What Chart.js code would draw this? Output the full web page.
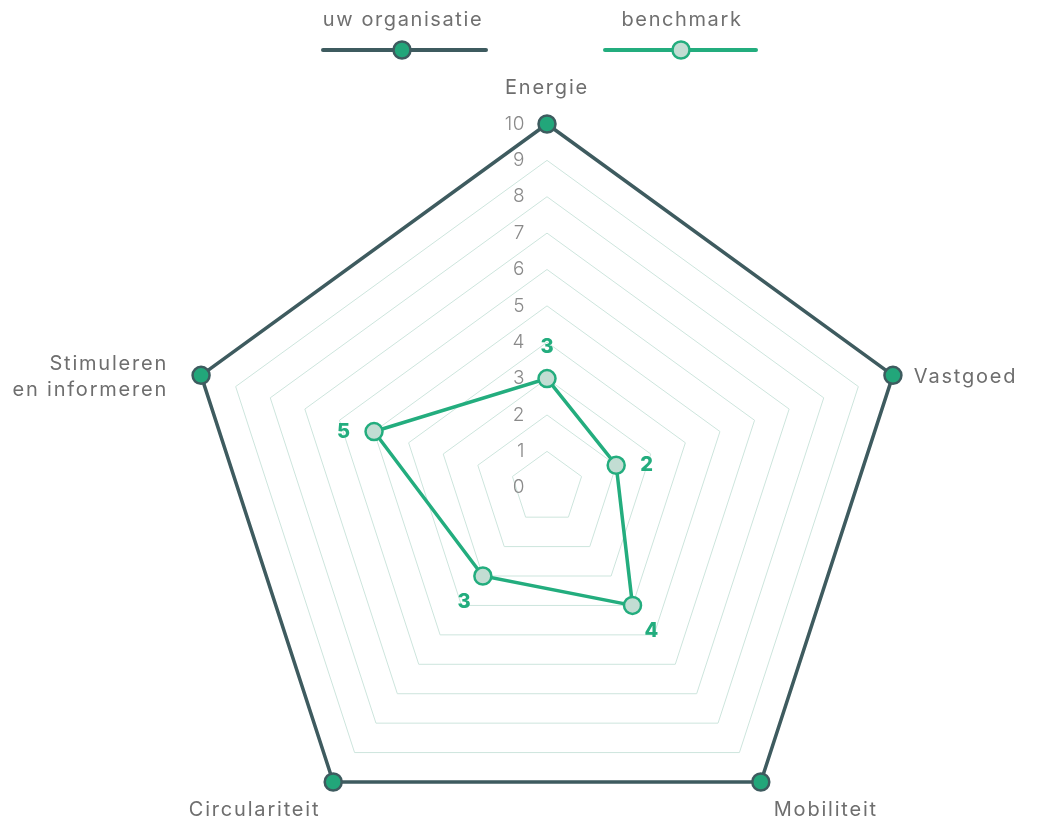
<!DOCTYPE html>
<html>
<head>
<meta charset="utf-8">
<script src="https://cdn.jsdelivr.net/npm/chart.js@4.4.1/dist/chart.umd.min.js"></script>
<style>
  html, body { margin: 0; padding: 0; background: #fff; }
  #wrap { width: 1037px; height: 824px; }
</style>
</head>
<body>
<div id="wrap"><canvas id="myRadarChart" width="1037" height="824"></canvas></div>
<script>
// chart data
var categories = [["Energie"], ["Vastgoed"], ["Mobiliteit"], ["Circulariteit"], ["Stimuleren", "en informeren"]];
var orgValues = [10, 10, 10, 10, 10];
var benchmarkValues = [3, 2, 4, 3, 5];
var tickLabels = ["0", "1", "2", "3", "4", "5", "6", "7", "8", "9", "10"];
var seriesNames = ["uw organisatie", "benchmark"];

var FONT = "Inter, 'Open Sans', sans-serif";
var DARK = "#3e5b5f";
var GREEN = "#23ad7e";

// fit the polygon (not a circle) into the chart area
function fitPolygon(scale) {
  var n = scale.chart.data.labels.length;
  var minX = 0, maxX = 0, minY = 0, maxY = 0;
  for (var i = 0; i < n; i++) {
    var a = (Math.PI * 2 * i) / n - Math.PI / 2;
    minX = Math.min(minX, Math.cos(a)); maxX = Math.max(maxX, Math.cos(a));
    minY = Math.min(minY, Math.sin(a)); maxY = Math.max(maxY, Math.sin(a));
  }
  var w = scale.maxWidth, h = scale.maxHeight;
  var r = Math.min(w / (maxX - minX), h / (maxY - minY));
  scale.drawingArea = r;
  scale.xCenter = scale.left + w / 2 - r * (maxX + minX) / 2;
  scale.yCenter = scale.top - r * minY;
}

var extrasPlugin = {
  id: "extras",
  beforeDatasetsDraw: function (chart) {
    var scale = chart.scales.r;
    var ctx = chart.ctx;
    ctx.save();
    // tick labels, left of the vertical axis
    ctx.font = "300 19px " + FONT;
    ctx.letterSpacing = "0.5px";
    ctx.fillStyle = "#8a8a8a";
    ctx.textAlign = "right";
    ctx.textBaseline = "middle";
    tickLabels.forEach(function (t) {
      var d = scale.getDistanceFromCenterForValue(Number(t));
      ctx.fillText(t, scale.xCenter - 22, scale.yCenter - d);
    });
    // point labels
    ctx.font = "20px " + FONT;
    ctx.letterSpacing = "1.8px";
    ctx.fillStyle = "#6e6e6e";
    categories.forEach(function (lines, i) {
      var p = scale.getPointPosition(i, scale.drawingArea + 22);
      var dx = p.x - scale.xCenter, dy = p.y - scale.yCenter;
      var y = p.y;
      if (Math.abs(dx) < 5) { ctx.textAlign = "center"; y -= 14; }
      else if (dx > 0) { ctx.textAlign = "left"; }
      else { ctx.textAlign = "right"; }
      var x = p.x;
      if (Math.abs(dx) > 5) {
        if (dy > 50) { y += 10; } else { y += 8; }
        if (lines.length > 1) { x -= 12; }
      }
      var lh = 26;
      var y0 = y - (lines.length - 1) * lh / 2;
      lines.forEach(function (line, k) {
        ctx.fillText(line, x, y0 + k * lh);
      });
    });
    ctx.restore();
  },
  afterDatasetsDraw: function (chart) {
    var scale = chart.scales.r;
    var ctx = chart.ctx;
    ctx.save();
    // value labels for benchmark
    ctx.font = "800 20px " + FONT;
    ctx.fillStyle = GREEN;
    ctx.textAlign = "center";
    ctx.textBaseline = "middle";
    benchmarkValues.forEach(function (v, i) {
      var d = scale.getDistanceFromCenterForValue(v);
      var pt = scale.getPointPosition(i, d);
      var p = scale.getPointPosition(i, d + 32);
      var y = p.y;
      if (Math.abs(p.y - pt.y) < 12) { y = pt.y; }
      ctx.fillText(String(v), p.x, y);
    });
    // legend
    var centers = [402, 681];
    var spans = [[79, 84], [76, 75]];
    chart.data.datasets.forEach(function (ds, i) {
      var cx = centers[i];
      ctx.font = "20px " + FONT;
      ctx.letterSpacing = "1.6px";
      ctx.fillStyle = "#707070";
      ctx.textAlign = "center";
      ctx.textBaseline = "middle";
      ctx.fillText(ds.label, cx + 1, 20);
      ctx.beginPath();
      ctx.lineCap = "round";
      ctx.lineWidth = 4;
      ctx.strokeStyle = ds.borderColor;
      ctx.moveTo(cx - spans[i][0], 50);
      ctx.lineTo(cx + spans[i][1], 50);
      ctx.stroke();
      ctx.beginPath();
      ctx.arc(cx, 50, 8.5, 0, Math.PI * 2);
      ctx.fillStyle = ds.pointBackgroundColor;
      ctx.fill();
      ctx.lineWidth = 2.5;
      ctx.strokeStyle = ds.pointBorderColor;
      ctx.stroke();
    });
    ctx.restore();
  }
};

var ctx = document.getElementById("myRadarChart");
var myRadarChart = new Chart(ctx, {
  type: "radar",
  data: {
    labels: categories,
    datasets: [
      {
        label: seriesNames[0],
        data: orgValues,
        borderColor: DARK,
        borderWidth: 3.5,
        backgroundColor: "rgba(0,0,0,0)",
        fill: false,
        pointBackgroundColor: "#22a67a",
        pointBorderColor: DARK,
        pointBorderWidth: 2.5,
        pointRadius: 8.5,
        pointHoverRadius: 8.5
      },
      {
        label: seriesNames[1],
        data: benchmarkValues,
        borderColor: GREEN,
        borderWidth: 3.5,
        backgroundColor: "rgba(0,0,0,0)",
        fill: false,
        pointBackgroundColor: "#c2ddd3",
        pointBorderColor: GREEN,
        pointBorderWidth: 2.5,
        pointRadius: 8.5,
        pointHoverRadius: 8.5
      }
    ]
  },
  options: {
    responsive: false,
    animation: false,
    layout: { padding: { top: 124, bottom: 42, left: 201, right: 144 } },
    plugins: {
      legend: { display: false },
      tooltip: { enabled: false }
    },
    elements: { line: { tension: 0 } },
    scales: {
      r: {
        min: 0,
        max: 10,
        ticks: { display: false, stepSize: 1 },
        pointLabels: { display: false },
        angleLines: { display: false },
        grid: { color: "#cde5dd", lineWidth: 1 },
        afterFit: fitPolygon
      }
    }
  },
  plugins: [extrasPlugin]
});
</script>
</body>
</html>
